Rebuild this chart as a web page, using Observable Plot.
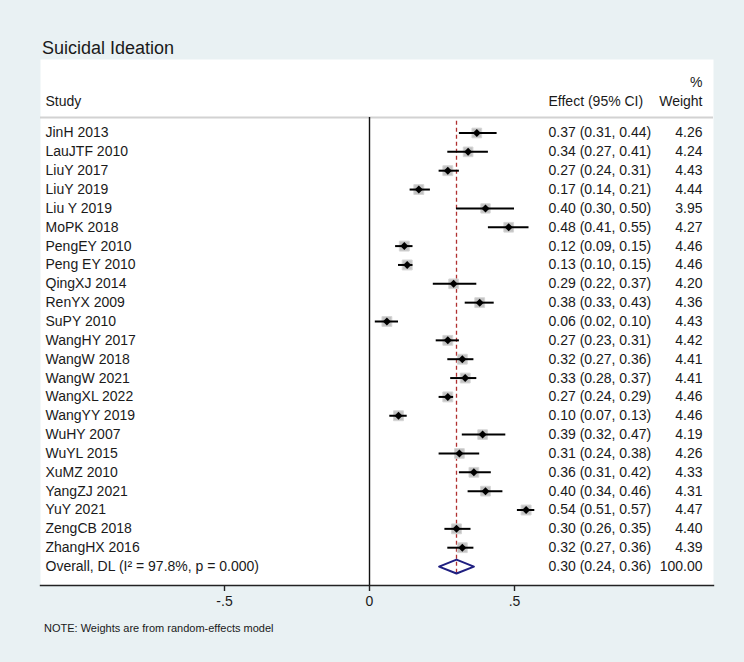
<!DOCTYPE html>
<html><head><meta charset="utf-8">
<script src="https://cdn.jsdelivr.net/npm/d3@7"></script>
<script src="https://cdn.jsdelivr.net/npm/@observablehq/plot@0.6"></script>
<style>
html,body{margin:0;padding:0;background:#e9f1f3;}
#wrap{position:relative;width:744px;height:662px;background:#e9f1f3;font-family:"Liberation Sans",Arial,sans-serif;color:#1a1a1a;overflow:hidden}
#title{position:absolute;left:42px;top:37px;font-size:18px;line-height:22px;white-space:nowrap}
#note{position:absolute;left:44px;top:621px;font-size:11px;line-height:14px;white-space:nowrap}
#chart{position:absolute;left:0;top:0}
</style></head><body>
<div id="wrap"><div id="chart"></div><div id="title">Suicidal Ideation</div><div id="note">NOTE: Weights are from random-effects model</div></div>
<script>
const studies = ["JinH 2013","LauJTF 2010","LiuY 2017","LiuY 2019","Liu Y 2019","MoPK 2018","PengEY 2010","Peng EY 2010","QingXJ 2014","RenYX 2009","SuPY 2010","WangHY 2017","WangW 2018","WangW 2021","WangXL 2022","WangYY 2019","WuHY 2007","WuYL 2015","XuMZ 2010","YangZJ 2021","YuY 2021","ZengCB 2018","ZhangHX 2016"];
const estimates = [0.37,0.34,0.27,0.17,0.40,0.48,0.12,0.13,0.29,0.38,0.06,0.27,0.32,0.33,0.27,0.10,0.39,0.31,0.36,0.40,0.54,0.30,0.32];
const lower = [0.31,0.27,0.24,0.14,0.30,0.41,0.09,0.10,0.22,0.33,0.02,0.23,0.27,0.28,0.24,0.07,0.32,0.24,0.31,0.34,0.51,0.26,0.27];
const upper = [0.44,0.41,0.31,0.21,0.50,0.55,0.15,0.15,0.37,0.43,0.10,0.31,0.36,0.37,0.29,0.13,0.47,0.38,0.42,0.46,0.57,0.35,0.36];
const weights = [4.26,4.24,4.43,4.44,3.95,4.27,4.46,4.46,4.20,4.36,4.43,4.42,4.41,4.41,4.46,4.46,4.19,4.26,4.33,4.31,4.47,4.40,4.39];
const overallLabel = "Overall, DL (I\u00B2 = 97.8%, p = 0.000)";
const overallEst = 0.30, overallLo = 0.24, overallHi = 0.36, overallWeight = 100.00;
const xTicks = [-0.5, 0, 0.5];
const headers = {study: "Study", effect: "Effect (95% CI)", pct: "%", weight: "Weight"};

const fmt = v => v.toFixed(2);
const rows = studies.map((s, i) => ({study: s, est: estimates[i], lo: lower[i], hi: upper[i], w: weights[i], row: i}));
const overall = {study: overallLabel, est: overallEst, lo: overallLo, hi: overallHi, w: overallWeight, row: studies.length};
const all = rows.concat([overall]);
all.forEach(d => { d.ci = `${fmt(d.est)} (${fmt(d.lo)}, ${fmt(d.hi)})`; d.wt = fmt(d.w); });

const headerLine = -0.82;
const yTop = -3.899, yBottom = 24.005;
const dHalf = 0.37;
const diamond = [
  {x: overall.lo, y: overall.row},
  {x: overall.est, y: overall.row - dHalf},
  {x: overall.hi, y: overall.row},
  {x: overall.est, y: overall.row + dHalf}
];
const ink = "#1a1a1a";
const tickFmt = d => d === 0 ? "0" : (d < 0 ? "-" : "") + "." + String(Math.abs(d)).split(".")[1];

const chart = Plot.plot({
  width: 744, height: 662,
  marginLeft: 40, marginRight: 31, marginTop: 59, marginBottom: 77,
  style: {background: "transparent", fontFamily: '"Liberation Sans", Arial, sans-serif', fontSize: "14px", color: ink, overflow: "visible"},
  x: {domain: [-1.1345, 1.1862]},
  y: {domain: [yTop, yBottom], reverse: true, axis: null},
  r: {range: [0, 5.6]},
  marks: [
    Plot.frame({fill: "white", stroke: "none"}),
    Plot.ruleY([headerLine], {stroke: "#d2d2d2", strokeWidth: 2}),
    Plot.ruleX([0], {y1: headerLine, y2: yBottom, stroke: "#111", strokeWidth: 1.4}),
    Plot.ruleX([overallEst], {y1: headerLine + 0.2, y2: overall.row + dHalf, stroke: "#b03030", strokeWidth: 1.3, strokeDasharray: "4,3"}),
    Plot.dot(rows, {x: "est", y: "row", r: "w", symbol: "square", fill: "#c2c2c2", stroke: "#d6d6d6", strokeWidth: 1}),
    Plot.ruleY(rows, {y: "row", x1: "lo", x2: "hi", stroke: "#000", strokeWidth: 2}),
    Plot.dot(rows, {x: "est", y: "row", symbol: "diamond2", r: 3.6, fill: "#000"}),
    Plot.line(diamond, {x: "x", y: "y", curve: "linear-closed", stroke: "#1f1f80", strokeWidth: 2, fill: "none"}),
    Plot.text(all, {y: "row", text: "study", frameAnchor: "left", dx: 5, textAnchor: "start", fill: ink}),
    Plot.text(all, {y: "row", text: "ci", frameAnchor: "right", dx: -165, textAnchor: "start", fill: ink}),
    Plot.text(all, {y: "row", text: "wt", frameAnchor: "right", dx: -11, textAnchor: "end", fill: ink}),
    Plot.text([headers.study], {text: d => d, frameAnchor: "top-left", dx: 5, dy: 37, textAnchor: "start", fill: ink}),
    Plot.text([headers.effect], {text: d => d, frameAnchor: "top-right", dx: -165, dy: 37, textAnchor: "start", fill: ink}),
    Plot.text([headers.weight], {text: d => d, frameAnchor: "top-right", dx: -11, dy: 37, textAnchor: "end", fill: ink}),
    Plot.text([headers.pct], {text: d => d, frameAnchor: "top-right", dx: -11, dy: 18, textAnchor: "end", fill: ink}),
    Plot.frame({anchor: "bottom", stroke: "#222", strokeWidth: 1.4}),
    Plot.axisX({ticks: xTicks, tickFormat: tickFmt, tickSize: 6, tickPadding: 5, fontSize: 14, label: null, stroke: "#222", strokeWidth: 1.4, fill: ink})
  ]
});
document.getElementById("chart").appendChild(chart);
</script>
</body></html>
